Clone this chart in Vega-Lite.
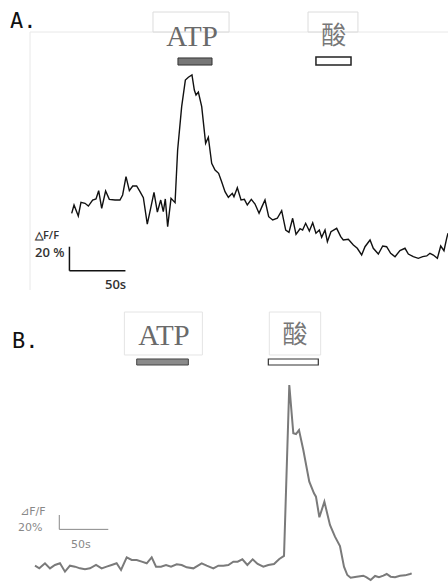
{
  "$schema": "https://vega.github.io/schema/vega-lite/v6.json",
  "padding": 0,
  "spacing": 0,
  "bounds": "flush",
  "background": "white",
  "config": {"view": {"stroke": null}},
  "vconcat": [
    {
      "width": 448,
      "height": 294,
      "encoding": {
        "x": {"field": "x", "type": "quantitative", "scale": {"domain": [0, 400], "nice": false, "zero": false}, "axis": null},
        "y": {"field": "y", "type": "quantitative", "scale": {"domain": [0, 245], "nice": false, "zero": false}, "axis": null}
      },
      "layer": [
        {
          "data": {"values": [
            {"x": 26.8, "y": 218.3, "x2": 400, "y2": 218.3},
            {"x": 26.8, "y": 218.3, "x2": 26.8, "y2": 3.3}
          ]},
          "mark": {"type": "rule", "color": "#e8e8e8", "strokeWidth": 1},
          "encoding": {"x2": {"field": "x2"}, "y2": {"field": "y2"}}
        },
        {
          "data": {"values": [
            {"x": 136.6, "x2": 204.5, "y": 218.3, "y2": 235},
            {"x": 275, "x2": 319.6, "y": 218.3, "y2": 235}
          ]},
          "mark": {"type": "rect", "fill": null, "stroke": "#dcdcdc", "strokeWidth": 1},
          "encoding": {"x2": {"field": "x2"}, "y2": {"field": "y2"}}
        },
        {
          "data": {"values": [{"x": 171.4, "y": 206.7, "label": "ATP"}]},
          "mark": {"type": "text", "font": "Liberation Serif", "fontSize": 29, "color": "#6a6a6a", "align": "center", "baseline": "alphabetic"},
          "encoding": {"text": {"field": "label"}}
        },
        {
          "data": {"values": [{"x": 298, "y": 208.3, "label": "酸"}]},
          "mark": {"type": "text", "font": "Noto Sans CJK SC", "fontSize": 25, "color": "#777777", "align": "center", "baseline": "alphabetic"},
          "encoding": {"text": {"field": "label"}}
        },
        {
          "data": {"values": [{"x": 158.9, "x2": 189.3, "y": 190.8, "y2": 196.7}]},
          "mark": {"type": "rect", "fill": "#777777", "stroke": "#333333", "strokeWidth": 1},
          "encoding": {"x2": {"field": "x2"}, "y2": {"field": "y2"}}
        },
        {
          "data": {"values": [{"x": 282.1, "x2": 313.4, "y": 190.8, "y2": 197.5}]},
          "mark": {"type": "rect", "fill": "white", "stroke": "#222222", "strokeWidth": 1.5},
          "encoding": {"x2": {"field": "x2"}, "y2": {"field": "y2"}}
        },
        {
          "data": {"values": [
            {"x": 64.0, "y": 67.2}, {"x": 66.1, "y": 74.2}, {"x": 69.9, "y": 65.0}, {"x": 72.3, "y": 76.4},
            {"x": 75.9, "y": 75.6}, {"x": 78.9, "y": 73.3}, {"x": 82.7, "y": 78.3}, {"x": 85.7, "y": 79.2},
            {"x": 88.1, "y": 86.1}, {"x": 90.8, "y": 71.4}, {"x": 94.3, "y": 85.8}, {"x": 97.6, "y": 78.9},
            {"x": 102.7, "y": 78.3}, {"x": 107.1, "y": 78.3}, {"x": 109.5, "y": 82.5}, {"x": 112.5, "y": 97.8},
            {"x": 115.5, "y": 86.1}, {"x": 118.5, "y": 90.0}, {"x": 122.0, "y": 90.0}, {"x": 125.0, "y": 85.3},
            {"x": 128.0, "y": 80.3}, {"x": 131.5, "y": 58.3}, {"x": 134.5, "y": 71.4}, {"x": 137.5, "y": 84.7},
            {"x": 140.5, "y": 68.3}, {"x": 143.5, "y": 78.3}, {"x": 145.8, "y": 68.6}, {"x": 147.6, "y": 79.2},
            {"x": 149.7, "y": 56.1}, {"x": 152.7, "y": 79.7}, {"x": 156.3, "y": 76.1}, {"x": 158.6, "y": 120.0},
            {"x": 162.2, "y": 156.1}, {"x": 165.5, "y": 178.3}, {"x": 168.2, "y": 180.6}, {"x": 171.4, "y": 182.5},
            {"x": 173.5, "y": 170.0}, {"x": 175.0, "y": 165.8}, {"x": 177.1, "y": 168.3}, {"x": 180.1, "y": 156.1},
            {"x": 183.6, "y": 125.6}, {"x": 186.0, "y": 130.6}, {"x": 189.0, "y": 108.9}, {"x": 192.0, "y": 103.3},
            {"x": 195.2, "y": 100.6}, {"x": 197.9, "y": 93.6}, {"x": 200.9, "y": 85.3}, {"x": 203.9, "y": 80.6},
            {"x": 207.4, "y": 83.9}, {"x": 208.9, "y": 81.1}, {"x": 211.9, "y": 88.6}, {"x": 215.2, "y": 78.3},
            {"x": 218.2, "y": 78.9}, {"x": 220.8, "y": 74.2}, {"x": 224.4, "y": 78.9}, {"x": 227.7, "y": 75.0},
            {"x": 231.3, "y": 67.2}, {"x": 233.9, "y": 72.8}, {"x": 236.6, "y": 78.3}, {"x": 239.9, "y": 64.4},
            {"x": 243.5, "y": 61.7}, {"x": 247.6, "y": 63.1}, {"x": 251.5, "y": 69.4}, {"x": 255.1, "y": 53.3},
            {"x": 258.0, "y": 51.4}, {"x": 261.3, "y": 63.1}, {"x": 264.3, "y": 49.7}, {"x": 267.9, "y": 54.4},
            {"x": 270.2, "y": 53.3}, {"x": 272.9, "y": 58.9}, {"x": 276.2, "y": 52.5}, {"x": 279.2, "y": 59.4},
            {"x": 282.1, "y": 50.6}, {"x": 285.1, "y": 53.3}, {"x": 287.2, "y": 47.2}, {"x": 290.2, "y": 53.3},
            {"x": 292.3, "y": 43.6}, {"x": 295.5, "y": 51.9}, {"x": 300.6, "y": 54.7}, {"x": 304.2, "y": 47.8},
            {"x": 306.5, "y": 45.0}, {"x": 311.0, "y": 45.6}, {"x": 315.5, "y": 40.8}, {"x": 319.0, "y": 38.1},
            {"x": 322.9, "y": 32.5}, {"x": 325.9, "y": 39.4}, {"x": 330.4, "y": 45.0}, {"x": 333.3, "y": 38.1},
            {"x": 337.8, "y": 33.3}, {"x": 341.7, "y": 40.0}, {"x": 345.2, "y": 39.4}, {"x": 348.8, "y": 33.9},
            {"x": 352.7, "y": 31.1}, {"x": 357.1, "y": 36.1}, {"x": 361.6, "y": 38.1}, {"x": 364.6, "y": 33.3},
            {"x": 369.0, "y": 31.1}, {"x": 373.5, "y": 29.7}, {"x": 377.4, "y": 31.1}, {"x": 381.0, "y": 31.7},
            {"x": 383.9, "y": 33.9}, {"x": 386.9, "y": 32.5}, {"x": 390.5, "y": 29.7}, {"x": 393.5, "y": 40.0},
            {"x": 396.4, "y": 36.1}, {"x": 398.8, "y": 46.4}, {"x": 400.0, "y": 50.6}
          ]},
          "mark": {"type": "line", "color": "#111111", "strokeWidth": 1.4, "clip": true}
        },
        {
          "data": {"values": [
            {"x": 62, "y": 19.4, "x2": 62, "y2": 39.4},
            {"x": 62, "y": 19.4, "x2": 112, "y2": 19.4}
          ]},
          "mark": {"type": "rule", "color": "#111111", "strokeWidth": 1.5},
          "encoding": {"x2": {"field": "x2"}, "y2": {"field": "y2"}}
        },
        {
          "data": {"values": [{"x": 31.25, "y": 45.8, "label": "△F/F"}]},
          "mark": {"type": "text", "font": "Open Sans", "fontSize": 11, "fontWeight": 600, "color": "#333333", "align": "left", "baseline": "alphabetic"},
          "encoding": {"text": {"field": "label"}}
        },
        {
          "data": {"values": [{"x": 31.25, "y": 30.8, "label": "20 %"}, {"x": 93.75, "y": 4.2, "label": "50s"}]},
          "mark": {"type": "text", "font": "Open Sans", "fontSize": 13, "fontWeight": 600, "color": "#333333", "align": "left", "baseline": "alphabetic"},
          "encoding": {"text": {"field": "label"}}
        },
        {
          "data": {"values": [{"x": 8.9, "y": 221.7, "label": "A."}]},
          "mark": {"type": "text", "font": "DejaVu Sans Mono", "fontSize": 22, "color": "#111111", "align": "left", "baseline": "alphabetic"},
          "encoding": {"text": {"field": "label"}}
        }
      ]
    },
    {
      "width": 448,
      "height": 288,
      "encoding": {
        "x": {"field": "x", "type": "quantitative", "scale": {"domain": [0, 457.14], "nice": false, "zero": false}, "axis": null},
        "y": {"field": "y", "type": "quantitative", "scale": {"domain": [0, 411.43], "nice": false, "zero": false}, "axis": null}
      },
      "layer": [
        {
          "data": {"values": [
            {"x": 126.9, "x2": 206.5, "y": 324.3, "y2": 385.7},
            {"x": 274.8, "x2": 327.2, "y": 324.3, "y2": 385.7}
          ]},
          "mark": {"type": "rect", "fill": "white", "stroke": "#e4e4e4", "strokeWidth": 1},
          "encoding": {"x2": {"field": "x2"}, "y2": {"field": "y2"}}
        },
        {
          "data": {"values": [{"x": 167.3, "y": 338.6, "label": "ATP"}]},
          "mark": {"type": "text", "font": "Liberation Serif", "fontSize": 29, "color": "#6a6a6a", "align": "center", "baseline": "alphabetic"},
          "encoding": {"text": {"field": "label"}}
        },
        {
          "data": {"values": [{"x": 301, "y": 341.4, "label": "酸"}]},
          "mark": {"type": "text", "font": "Noto Sans CJK SC", "fontSize": 25, "color": "#777777", "align": "center", "baseline": "alphabetic"},
          "encoding": {"text": {"field": "label"}}
        },
        {
          "data": {"values": [{"x": 139.5, "x2": 192.2, "y": 310, "y2": 318.6}]},
          "mark": {"type": "rect", "fill": "#8a8a8a", "stroke": "#444444", "strokeWidth": 1},
          "encoding": {"x2": {"field": "x2"}, "y2": {"field": "y2"}}
        },
        {
          "data": {"values": [{"x": 273.8, "x2": 324.8, "y": 310, "y2": 318.6}]},
          "mark": {"type": "rect", "fill": "white", "stroke": "#333333", "strokeWidth": 1.2},
          "encoding": {"x2": {"field": "x2"}, "y2": {"field": "y2"}}
        },
        {
          "data": {"values": [
            {"x": 35.7, "y": 23.3}, {"x": 40.1, "y": 19.5}, {"x": 45.9, "y": 26.7}, {"x": 51.0, "y": 19.5},
            {"x": 56.1, "y": 24.3}, {"x": 61.2, "y": 26.7}, {"x": 66.3, "y": 14.8}, {"x": 71.4, "y": 23.3},
            {"x": 76.5, "y": 21.9}, {"x": 81.6, "y": 19.5}, {"x": 86.7, "y": 18.1}, {"x": 91.8, "y": 19.5},
            {"x": 98.0, "y": 24.3}, {"x": 103.7, "y": 19.5}, {"x": 108.8, "y": 21.9}, {"x": 113.9, "y": 24.3},
            {"x": 119.0, "y": 26.7}, {"x": 123.5, "y": 17.2}, {"x": 129.3, "y": 35.3}, {"x": 134.4, "y": 31.5},
            {"x": 139.5, "y": 31.5}, {"x": 144.6, "y": 29.1}, {"x": 149.7, "y": 26.7}, {"x": 154.8, "y": 35.3},
            {"x": 159.2, "y": 21.9}, {"x": 164.3, "y": 21.9}, {"x": 169.4, "y": 24.3}, {"x": 174.5, "y": 21.9},
            {"x": 180.3, "y": 25.3}, {"x": 185.4, "y": 24.3}, {"x": 190.5, "y": 21.0}, {"x": 197.3, "y": 19.5},
            {"x": 205.8, "y": 26.7}, {"x": 210.9, "y": 23.3}, {"x": 217.7, "y": 19.5}, {"x": 222.8, "y": 23.3},
            {"x": 227.9, "y": 23.3}, {"x": 233.0, "y": 24.3}, {"x": 238.1, "y": 29.1}, {"x": 242.5, "y": 29.1},
            {"x": 247.3, "y": 32.4}, {"x": 252.4, "y": 24.3}, {"x": 257.8, "y": 32.4}, {"x": 262.9, "y": 25.7},
            {"x": 268.7, "y": 21.9}, {"x": 273.8, "y": 24.3}, {"x": 279.6, "y": 25.7}, {"x": 285.0, "y": 32.9},
            {"x": 289.8, "y": 37.2}, {"x": 295.2, "y": 281.4}, {"x": 299.3, "y": 212.4}, {"x": 302.0, "y": 211.4},
            {"x": 305.1, "y": 217.1}, {"x": 309.5, "y": 188.6}, {"x": 315.6, "y": 143.4}, {"x": 320.4, "y": 126.7},
            {"x": 322.4, "y": 121.9}, {"x": 325.9, "y": 92.4}, {"x": 331.0, "y": 114.8}, {"x": 336.7, "y": 81.4},
            {"x": 341.8, "y": 64.8}, {"x": 346.9, "y": 51.4}, {"x": 351.0, "y": 21.9}, {"x": 354.4, "y": 10.0},
            {"x": 357.8, "y": 6.2}, {"x": 363.9, "y": 7.6}, {"x": 370.7, "y": 9.0}, {"x": 374.1, "y": 6.7},
            {"x": 378.2, "y": 2.9}, {"x": 382.7, "y": 8.6}, {"x": 386.7, "y": 6.7}, {"x": 391.2, "y": 9.0},
            {"x": 394.6, "y": 11.4}, {"x": 398.6, "y": 7.6}, {"x": 403.1, "y": 6.7}, {"x": 408.2, "y": 9.0},
            {"x": 413.3, "y": 9.5}, {"x": 418.4, "y": 11.4}, {"x": 420.1, "y": 12.4}
          ]},
          "mark": {"type": "line", "color": "#7a7a7a", "strokeWidth": 2, "clip": true}
        },
        {
          "data": {"values": [
            {"x": 60.5, "y": 75.2, "x2": 60.5, "y2": 95.7},
            {"x": 60.5, "y": 75.2, "x2": 110.5, "y2": 75.2}
          ]},
          "mark": {"type": "rule", "color": "#888888", "strokeWidth": 1},
          "encoding": {"x2": {"field": "x2"}, "y2": {"field": "y2"}}
        },
        {
          "data": {"values": [
            {"x": 20.4, "y": 95.7, "label": "⊿F/F"},
            {"x": 18.4, "y": 72.9, "label": "20%"},
            {"x": 72.4, "y": 48.6, "label": "50s"}
          ]},
          "mark": {"type": "text", "font": "DejaVu Sans", "fontSize": 11, "color": "#888888", "align": "left", "baseline": "alphabetic"},
          "encoding": {"text": {"field": "label"}}
        },
        {
          "data": {"values": [{"x": 12.2, "y": 334.3, "label": "B."}]},
          "mark": {"type": "text", "font": "DejaVu Sans Mono", "fontSize": 22, "color": "#111111", "align": "left", "baseline": "alphabetic"},
          "encoding": {"text": {"field": "label"}}
        }
      ]
    }
  ]
}
